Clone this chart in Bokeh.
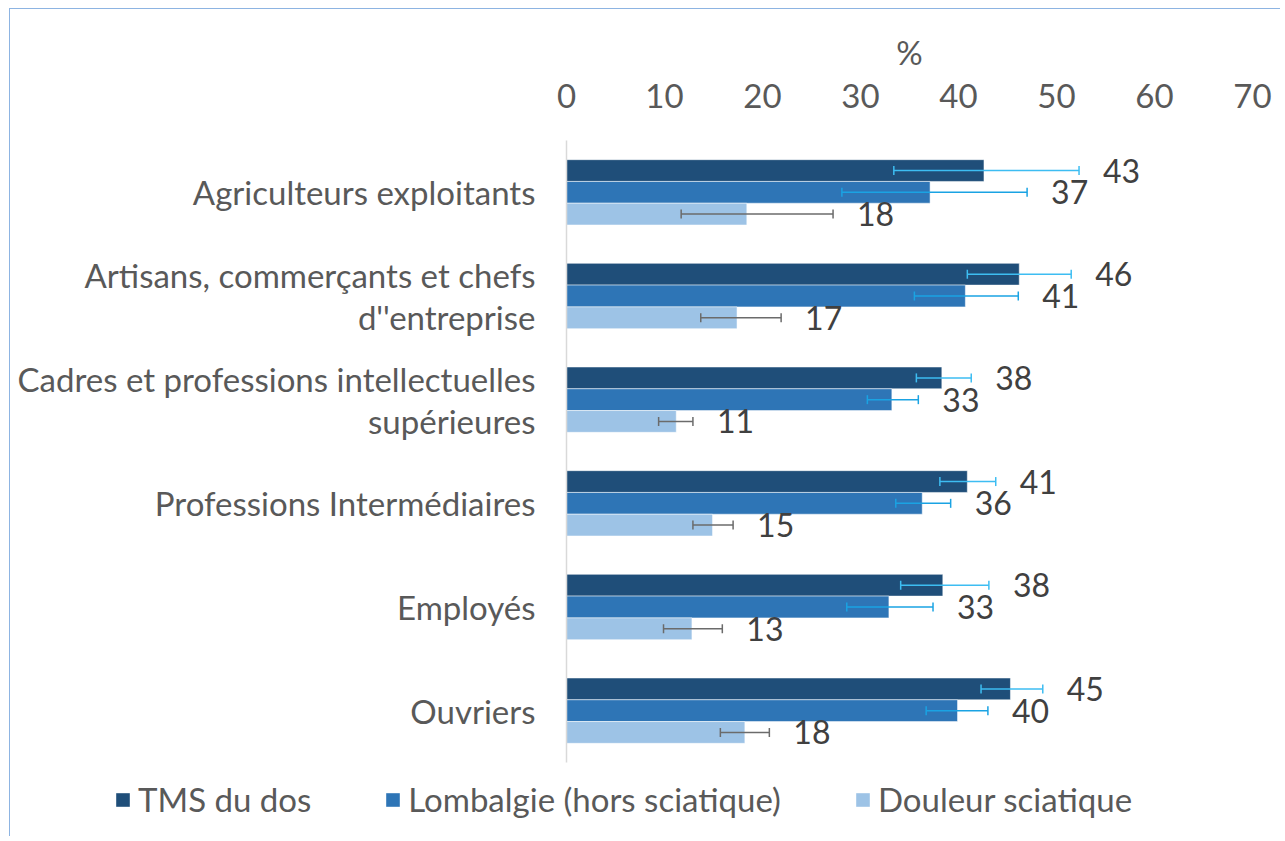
import numpy as np
from bokeh.plotting import figure
from bokeh.layouts import column
from bokeh.models import (ColumnDataSource, FactorRange, Range1d, FixedTicker,
                          Legend, LegendItem)
from bokeh.transform import dodge
from bokeh.core.properties import value
from bokeh.embed import file_html
from bokeh.resources import INLINE

# ---------------- data ----------------
categories = [
    "Agriculteurs exploitants",
    "Artisans, commerçants et chefs\nd''entreprise",
    "Cadres et professions intellectuelles\nsupérieures",
    "Professions Intermédiaires",
    "Employés",
    "Ouvriers",
]
series_names = ["TMS du dos", "Lombalgie (hors sciatique)", "Douleur sciatique"]

tms = [42.6, 46.2, 38.3, 40.9, 38.4, 45.3]
tms_lo = [33.4, 40.9, 35.7, 38.1, 34.1, 42.3]
tms_hi = [52.3, 51.5, 41.3, 43.8, 43.1, 48.6]

lomb = [37.1, 40.7, 33.2, 36.3, 32.9, 39.9]
lomb_lo = [28.1, 35.5, 30.7, 33.6, 28.6, 36.7]
lomb_hi = [47.0, 46.1, 35.9, 39.2, 37.4, 43.0]

sciat = [18.4, 17.4, 11.2, 14.9, 12.8, 18.2]
sciat_lo = [11.7, 13.7, 9.4, 12.9, 9.9, 15.7]
sciat_hi = [27.2, 21.9, 12.9, 17.0, 15.9, 20.7]

x_ticks = [0, 10, 20, 30, 40, 50, 60, 70]

# ---------------- styles ----------------
FONT = "Lato"
FS = "33px"
TXT = "#595959"
bar_colors = ["#1F4E79", "#2E75B6", "#9DC3E6"]
err_colors = ["#3DBDF2", "#1AA3E3", "#6B6B6B"]
offsets = [0.21, 0.0, -0.21]

p = figure(width=1270, height=757,
           y_range=FactorRange(*reversed(categories)),
           x_range=Range1d(0, 70),
           x_axis_location="above",
           output_backend="svg", toolbar_location=None,
           min_border_left=556, min_border_right=28,
           min_border_top=131, min_border_bottom=4)
p.outline_line_color = None
p.xgrid.grid_line_color = None
p.ygrid.grid_line_color = None

xa = p.xaxis[0]
xa.ticker = FixedTicker(ticks=x_ticks)
xa.axis_line_color = None
xa.major_tick_line_color = None
xa.minor_tick_line_color = None
xa.major_label_text_font = FONT
xa.major_label_text_font_size = FS
xa.major_label_text_color = TXT
xa.major_label_standoff = 27
xa.axis_label = "%"
xa.axis_label_text_font = FONT
xa.axis_label_text_font_style = "normal"
xa.axis_label_text_font_size = FS
xa.axis_label_text_color = TXT
xa.axis_label_standoff = 9

ya = p.yaxis[0]
ya.axis_line_color = "#D9D9D9"
ya.axis_line_width = 1.5
ya.major_tick_line_color = None
ya.minor_tick_line_color = None
ya.major_label_text_font = FONT
ya.major_label_text_font_size = FS
ya.major_label_text_color = TXT
ya.major_label_text_line_height = 1.05
ya.major_label_standoff = 25

series_vals = [tms, lomb, sciat]
series_lo = [tms_lo, lomb_lo, sciat_lo]
series_hi = [tms_hi, lomb_hi, sciat_hi]

sources = []
for i in range(3):
    src = ColumnDataSource(dict(
        cat=categories,
        val=series_vals[i],
        lo=series_lo[i],
        hi=series_hi[i],
        label=[str(int(round(v))) for v in series_vals[i]],
    ))
    sources.append(src)
    yy = dodge("cat", offsets[i], range=p.y_range)
    p.hbar(y=yy, left=0, right="val", height=0.21, source=src,
           fill_color=bar_colors[i], line_color="white", line_alpha=0.5,
           line_width=1)
    p.segment(x0="lo", x1="hi", y0=yy, y1=yy, source=src,
              line_color=err_colors[i], line_width=1.5)
    for fld in ("lo", "hi"):
        p.scatter(x=fld, y=yy, source=src, marker="dash", angle=np.pi / 2,
                  size=9, line_color=err_colors[i], line_width=1.5)
    p.text(x="hi", y=yy, text="label", source=src, x_offset=24,
           text_align="left", text_baseline="middle",
           text_font=value(FONT), text_font_size="32px", text_color="#404040")

# ---------------- legend strip ----------------
p2 = figure(width=1270, height=70, x_range=Range1d(0, 1), y_range=Range1d(0, 1),
            output_backend="svg", toolbar_location=None, min_border=0)
try:
    p2.frame_align = False
    p.frame_align = False
except AttributeError:
    pass
p2.axis.visible = False
p2.xgrid.grid_line_color = None
p2.ygrid.grid_line_color = None
p2.outline_line_color = None

items = []
for i in range(3):
    # zero-height bars: only their legend swatch is visible
    r = p2.hbar(y=0, left=0, right="val", height=0, source=sources[i],
                fill_color=bar_colors[i], line_color=None)
    items.append(LegendItem(label=series_names[i], renderers=[r]))

legend = Legend(items=items, orientation="horizontal", location=(104, 17),
                glyph_width=17, glyph_height=17, label_standoff=7, spacing=73,
                padding=0, margin=0, border_line_color=None,
                background_fill_alpha=0,
                label_text_font=FONT, label_text_font_size=FS,
                label_text_color=TXT)
p2.add_layout(legend, "center")

layout = column(p, p2, spacing=0)
layout.styles = {"border-left": "1px solid #8DB4E2",
                 "border-top": "1px solid #8DB4E2",
                 "margin-left": "9px", "margin-top": "8px"}

open("out.html", "w").write(file_html(layout, INLINE))
